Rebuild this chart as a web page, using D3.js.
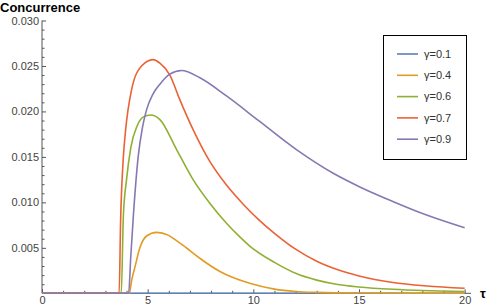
<!DOCTYPE html>
<html>
<head>
<meta charset="utf-8">
<script src="https://cdn.jsdelivr.net/npm/d3@7"></script>
<style>
  body { margin: 0; background: #fff; }
  svg { font-family: "Liberation Sans", Arial, sans-serif; }
</style>
</head>
<body>
<div id="chart"></div>
<script>
// data: [tau, concurrence]
const gamma01 = [[0, 0], [20, 0]];
const gamma04 = [[0, 0], [4.13, 0], [4.25, 0.0015], [4.4, 0.0029], [4.63, 0.0050], [4.95, 0.0063],
  [5.42, 0.0067], [5.97, 0.0064], [6.3, 0.0059], [7.0, 0.0047], [7.5, 0.0038], [8.42, 0.0024],
  [9.83, 0.0011], [11, 0.00046], [12, 0.0002], [13, 0.0001], [15, 0.00003], [20, 0]];
const gamma06 = [[0, 0], [3.75, 0], [3.85, 0.0085], [4.0, 0.0125], [4.2, 0.016], [4.5, 0.0184],
  [4.8, 0.0194], [5.14, 0.0196], [5.58, 0.0191], [6.37, 0.0158], [7.15, 0.0125], [7.94, 0.0099],
  [8.73, 0.0077], [9.36, 0.0062], [9.83, 0.0052], [11, 0.0034], [12, 0.0022], [13, 0.00145],
  [14, 0.00097], [15, 0.0007], [16.6, 0.00044], [18, 0.0003], [20, 0.0002]];
const gamma07 = [[0, 0], [3.65, 0], [3.72, 0.008], [3.85, 0.015], [3.95, 0.0178], [4.24, 0.0224],
  [4.71, 0.025], [5.26, 0.0257], [5.58, 0.0253], [6.05, 0.024], [6.52, 0.0213], [7.15, 0.018],
  [7.94, 0.0145], [8.73, 0.0119], [9.52, 0.0098], [10.3, 0.0080], [11, 0.0066], [12, 0.00485],
  [13, 0.00352], [14, 0.00258], [15, 0.0019], [16.6, 0.00118], [18.2, 0.0008], [20, 0.00055]];
const gamma09 = [[0, 0], [4.1, 0], [4.2, 0.004], [4.32, 0.0084], [4.55, 0.015], [4.75, 0.0182],
  [4.95, 0.0202], [5.25, 0.0219], [5.58, 0.023], [6.05, 0.0241], [6.6, 0.0245], [7.47, 0.0237],
  [8.73, 0.0217], [10.3, 0.0189], [12.04, 0.0158], [13.78, 0.0132], [15.04, 0.0117],
  [16.6, 0.0101], [18.2, 0.0086], [20, 0.0072]];

const seriesNames = ["γ=0.1", "γ=0.4", "γ=0.6", "γ=0.7", "γ=0.9"];
const seriesData = [gamma01, gamma04, gamma06, gamma07, gamma09];
const colors = ["#5E81B5", "#E19C24", "#8FB032", "#EB6235", "#8778B3"];

const xMajorTicks = [0, 5, 10, 15, 20];
const yMajorTicks = [0.005, 0.010, 0.015, 0.020, 0.025, 0.030];

const width = 491, height = 305;

const svg = d3.select("#chart")
  .append("svg")
    .attr("width", width)
    .attr("height", height);

const x = d3.scaleLinear().domain([0, 20.3]).range([42, 471]);
const y = d3.scaleLinear().domain([0, 0.030]).range([293.3, 20.5]);

// minor ticks every 1 on x and every 0.001 on y
const xMinor = d3.range(0, 21).filter(d => d % 5 !== 0);
const yMinor = d3.range(1, 30).map(d => d / 1000).filter((d, i) => (i + 1) % 5 !== 0);

const axisColor = "#555";

// x axis
const gx = svg.append("g").attr("transform", `translate(0,${y(0)})`);
gx.append("g")
  .call(d3.axisBottom(x).tickValues(xMinor).tickSize(-2.5).tickFormat(""))
  .call(g => g.select(".domain").remove());
gx.append("g")
  .call(d3.axisBottom(x).tickValues(xMajorTicks).tickSize(-4).tickPadding(3).tickFormat(d3.format("d")))
  .call(g => g.select(".domain").remove());
gx.append("line")
  .attr("x1", x(0)).attr("x2", x.range()[1])
  .attr("stroke", axisColor);

// y axis
const gy = svg.append("g").attr("transform", `translate(${x(0)},0)`);
gy.append("g")
  .call(d3.axisLeft(y).tickValues(yMinor).tickSize(-2.5).tickFormat(""))
  .call(g => g.select(".domain").remove());
gy.append("g")
  .call(d3.axisLeft(y).tickValues(yMajorTicks).tickSize(-4).tickPadding(3).tickFormat(d3.format(".3f")))
  .call(g => g.select(".domain").remove());
gy.append("line")
  .attr("y1", y(0)).attr("y2", y(0.030))
  .attr("stroke", axisColor);

svg.selectAll("g").attr("font-family", null).attr("font-size", null);
svg.selectAll(".tick line").attr("stroke", axisColor);
svg.selectAll(".tick text").attr("fill", "#444").style("font-size", "11px");

// curves
const line = d3.line()
  .x(d => x(d[0]))
  .y(d => y(d[1]))
  .curve(d3.curveMonotoneX);

svg.append("g")
  .selectAll("path")
  .data(seriesData)
  .join("path")
    .attr("fill", "none")
    .attr("stroke", (d, i) => colors[i])
    .attr("stroke-width", 1.6)
    .attr("d", line);

// axis labels
svg.append("text")
  .attr("x", 0).attr("y", 12)
  .attr("font-size", 13).attr("font-weight", "bold")
  .text("Concurrence");
svg.append("text")
  .attr("x", 480).attr("y", 298)
  .attr("font-size", 13).attr("font-weight", "bold")
  .text("τ");

// legend
const legend = svg.append("g");
legend.append("rect")
  .attr("x", 383.5).attr("y", 35.5)
  .attr("width", 83).attr("height", 124)
  .attr("fill", "#fff").attr("stroke", "#000").attr("stroke-width", 1);
const rows = legend.selectAll(".row")
  .data(seriesNames)
  .join("g")
    .attr("class", "row")
    .attr("transform", (d, i) => `translate(0,${54 + i * 21.3})`);
rows.append("line")
  .attr("x1", 397).attr("x2", 418)
  .attr("stroke", (d, i) => colors[i])
  .attr("stroke-width", 1.6);
rows.append("text")
  .attr("x", 424).attr("dy", "0.35em")
  .attr("font-size", 11).attr("fill", "#333")
  .text(d => d);
</script>
</body>
</html>
